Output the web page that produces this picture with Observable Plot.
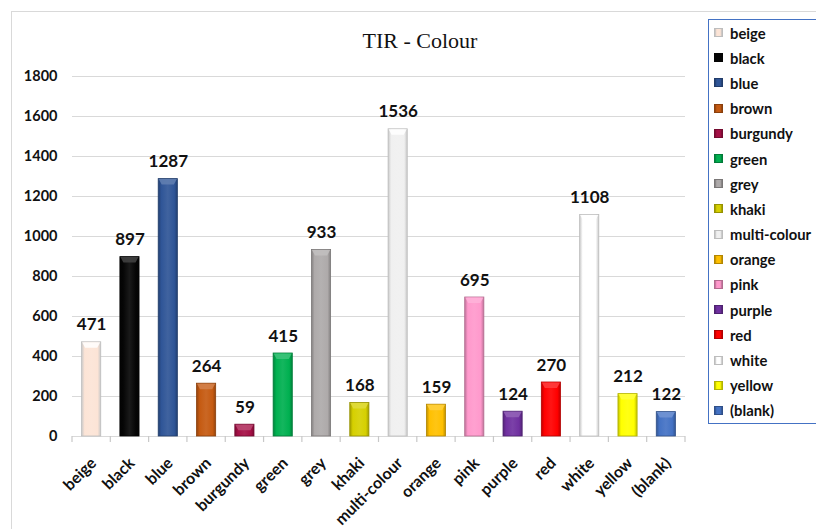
<!DOCTYPE html>
<html>
<head>
<meta charset="utf-8">
<script src="https://cdn.jsdelivr.net/npm/d3@7"></script>
<script src="https://cdn.jsdelivr.net/npm/@observablehq/plot@0.6"></script>
<style>
  body { margin: 0; background: #fff; overflow: hidden; }
  #page { position: relative; width: 816px; height: 529px; overflow: hidden; font-family: Lato, sans-serif; }
  #frame { position: absolute; left: 11px; top: 11px; width: 900px; height: 600px; border: 1px solid #d9d9d9; }
  #chart { position: absolute; left: 0; top: 0; }
  #title { position: absolute; left: 0; width: 840px; top: 30px; text-align: center;
           font-family: "Liberation Serif", serif; font-size: 22px; line-height: 22px; color: #111; }
  #legend { position: absolute; left: 708px; top: 19px; width: 130px; height: 403px;
            border: 1.5px solid #4472c4; background: #fff; }
  .item { height: 25.2px; display: flex; align-items: center; font-size: 14.8px; font-weight: bold; color: #111; }
  .sw { width: 9px; height: 9px; margin-left: 5px; margin-right: 7px; box-sizing: border-box; }
</style>
</head>
<body>
<div id="page">
  <div id="frame"></div>
  <div id="chart"></div>
  <div id="title">TIR - Colour</div>
  <div id="legend"></div>
</div>
<script>
// Counts of items per colour
const categories = ["beige", "black", "blue", "brown", "burgundy", "green", "grey", "khaki",
  "multi-colour", "orange", "pink", "purple", "red", "white", "yellow", "(blank)"];
const counts = [471, 897, 1287, 264, 59, 415, 933, 168, 1536, 159, 695, 124, 270, 1108, 212, 122];
const barColors = ["#fce4d6", "#050505", "#2f5597", "#c55a11", "#a50f45", "#00b050", "#aeaaaa", "#d6d000",
  "#f0f0f0", "#ffc000", "#ff99cc", "#7030a0", "#ff0000", "#ffffff", "#ffff00", "#4472c4"];
const yTicks = [0, 200, 400, 600, 800, 1000, 1200, 1400, 1600, 1800];

const rows = categories.map((c, i) => ({category: c, count: counts[i]}));

function shade(c, k) { return d3.interpolateRgb(c, "#000")(k); }
function tint(c, k) { return d3.interpolateRgb(c, "#fff")(k); }
function edge(c) { return d3.hsl(c).l > 0.9 ? "#bdbdbd" : shade(c, 0.3); }

const plot = Plot.plot({
  width: 700,
  height: 529,
  marginLeft: 72,
  marginRight: 15,
  marginTop: 76,
  marginBottom: 93,
  style: {fontFamily: "Lato", fontSize: "14px", fontWeight: "bold", color: "#111", background: "transparent", overflow: "visible"},
  x: {domain: categories, paddingInner: 0.5, paddingOuter: 0.25, round: false, axis: null},
  y: {domain: [0, 1800], axis: null},
  color: {domain: categories, range: barColors},
  marks: [
    Plot.ruleY(yTicks, {stroke: "#d9d9d9", strokeWidth: 1.2}),
    Plot.axisY(yTicks, {tickSize: 0, tickPadding: 15, fontSize: 14.5, fontWeight: "bold", label: null, tickFormat: d => String(d)}),
    Plot.barY(rows, {x: "category", y: "count", fill: "category", stroke: d => edge(barColors[categories.indexOf(d.category)]), strokeWidth: 0.8}),
    Plot.text(rows, {x: "category", y: "count", text: d => String(d.count), lineAnchor: "bottom", dy: -12, fontSize: 17, fontWeight: "bold"}),
    Plot.text(categories, {x: d => d, frameAnchor: "bottom", rotate: -45, textAnchor: "end", lineAnchor: "middle", dx: 2, dy: 24, fontSize: 16, fontWeight: "bold"})
  ]
});
document.getElementById("chart").appendChild(plot);

// Bevelled fills for the bars
const svg = d3.select(plot);
const defs = svg.insert("defs", ":first-child");
barColors.forEach((c, i) => {
  const g = defs.append("linearGradient").attr("id", "bev" + i).attr("x1", 0).attr("x2", 1).attr("y1", 0).attr("y2", 0);
  const dark = d3.hsl(c).l > 0.9 ? "#c8c8c8" : shade(c, 0.25);
  [[0, dark], [0.16, c], [0.5, tint(c, 0.08)], [0.84, c], [1, dark]].forEach(([o, col]) =>
    g.append("stop").attr("offset", o).attr("stop-color", col));
});
const barGroup = svg.selectAll('g[aria-label="bar"]');
barGroup.selectAll("rect").each(function(i) {
  const r = d3.select(this);
  r.attr("fill", `url(#bev${i})`);
  const x = +r.attr("x"), y = +r.attr("y"), w = +r.attr("width");
  const c = barColors[i];
  const top = d3.hsl(c).l > 0.9 ? "#ffffff" : tint(c, 0.25);
  barGroup.append("polygon")
    .attr("points", [[x + 0.5, y + 0.5], [x + w - 0.5, y + 0.5], [x + w - 3.5, y + 6], [x + 3.5, y + 6]].map(p => p.join(",")).join(" "))
    .attr("fill", top).attr("opacity", 0.85);
});

// Category separators along the baseline
const xs = plot.scale("x"), ys = plot.scale("y");
const y0 = ys.apply(0);
const bounds = categories.map(c => xs.apply(c) - xs.step * 0.25).concat([xs.apply(categories[categories.length - 1]) + xs.bandwidth + xs.step * 0.25]);
svg.append("g").selectAll("line").data(bounds).join("line")
  .attr("x1", d => d).attr("x2", d => d).attr("y1", y0).attr("y2", y0 + 6)
  .attr("stroke", "#c8c8c8").attr("stroke-width", 1.2);

// Legend
const legend = d3.select("#legend");
categories.forEach((c, i) => {
  const item = legend.append("div").attr("class", "item");
  const col = barColors[i];
  const dark = d3.hsl(col).l > 0.9 ? "#bdbdbd" : shade(col, 0.3);
  item.append("div").attr("class", "sw")
    .style("background", `linear-gradient(90deg, ${dark} 0%, ${col} 25%, ${col} 75%, ${dark} 100%)`)
    .style("border", `1px solid ${dark}`);
  item.append("span").text(c);
});
</script>
</body>
</html>
